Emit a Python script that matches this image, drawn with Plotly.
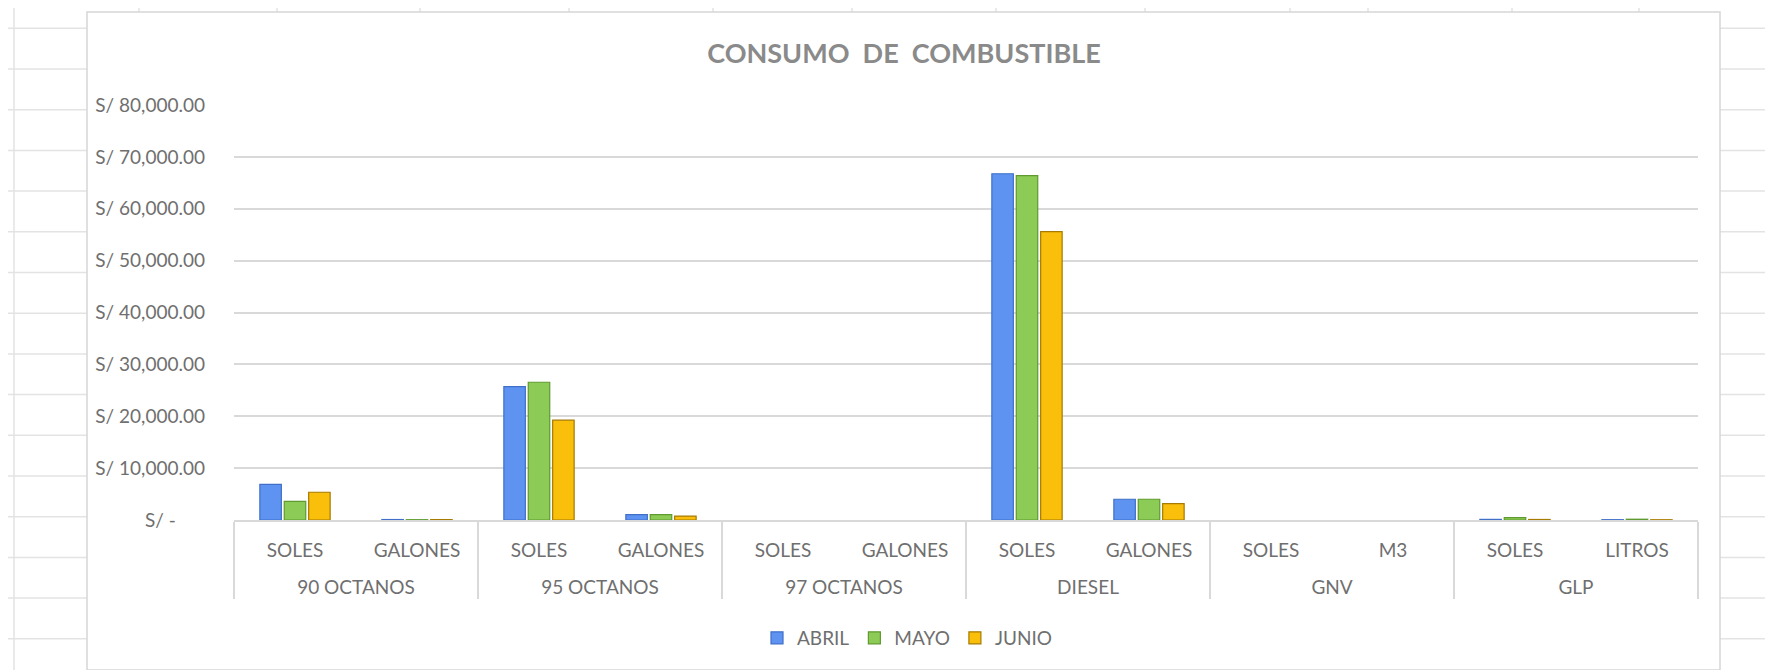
import plotly.graph_objects as go

# data
combustibles = ["90 OCTANOS", "90 OCTANOS", "95 OCTANOS", "95 OCTANOS", "97 OCTANOS", "97 OCTANOS",
                "DIESEL", "DIESEL", "GNV", "GNV", "GLP", "GLP"]
unidades = ["SOLES", "GALONES", "SOLES", "GALONES", "SOLES", "GALONES",
            "SOLES", "GALONES", "SOLES", "M3", "SOLES", "LITROS"]
abril = [6850, 90, 25700, 1050, 0, 0, 66750, 4000, 0, 0, 120, 60]
mayo = [3600, 60, 26550, 1050, 0, 0, 66400, 4000, 0, 0, 450, 150]
junio = [5350, 80, 19250, 750, 0, 0, 55600, 3150, 0, 0, 100, 50]
meses = ["ABRIL", "MAYO", "JUNIO"]
y_ticks = [0, 10000, 20000, 30000, 40000, 50000, 60000, 70000, 80000]
y_tick_text = ["S/ -\u00a0\u00a0\u00a0\u00a0\u00a0\u00a0", "S/ 10,000.00", "S/ 20,000.00", "S/ 30,000.00",
               "S/ 40,000.00", "S/ 50,000.00", "S/ 60,000.00", "S/ 70,000.00", "S/ 80,000.00"]

W, H = 1773, 670
ML, MR, MT, MB = 226, 83, 97, 158
PW, PH = W - ML - MR, H - MT - MB


def px(x):
   return (x - ML) / PW


def py(y):
   return (H - MB - y) / PH


FONT = "Lato, 'Open Sans', sans-serif"
GRAY = "#6f6f6f"

colors = {"ABRIL": ("#5f93f2", "#3f6fc8"),
          "MAYO": ("#8ccb55", "#5f9a30"),
          "JUNIO": ("#f9bf0a", "#a77a00")}

# second level labels get an empty first line so they sit lower, like excel
grupos = ["<br>" + c for c in combustibles]

fig = go.Figure()
for mes, vals in zip(meses, [abril, mayo, junio]):
   fill, edge = colors[mes]
   fig.add_trace(go.Bar(
      x=[grupos, unidades],
      y=vals,
      name=mes,
      marker=dict(color=fill,
                  line=dict(color=edge, width=[1.2 if v > 0 else 0 for v in vals])),
   ))

# spreadsheet grid behind the chart box
shapes = []
for xc in [6, 131, 269, 412, 561, 705, 844, 988, 1137, 1282, 1360, 1504, 1631]:
   shapes.append(dict(type="line", xref="paper", yref="paper", layer="below",
                      x0=px(xc), x1=px(xc), y0=py(0), y1=py(H),
                      line=dict(color="#e3e3e3", width=1.5)))
for k in range(16):
   yr = 20.3 + 40.7 * k
   shapes.append(dict(type="line", xref="paper", yref="paper", layer="below",
                      x0=px(0), x1=px(W), y0=py(yr), y1=py(yr),
                      line=dict(color="#e3e3e3", width=1.5)))
# chart box
shapes.append(dict(type="rect", xref="paper", yref="paper", layer="below",
                   x0=px(79), x1=px(1712), y0=py(662), y1=py(4),
                   fillcolor="white", line=dict(color="#d6d6d6", width=1.5)))

fig.update_layout(
   width=W, height=H,
   margin=dict(l=ML, r=MR, t=MT, b=MB),
   paper_bgcolor="white",
   plot_bgcolor="rgba(0,0,0,0)",
   font=dict(family=FONT, size=19, color=GRAY),
   title=dict(text="<b>CONSUMO  DE  COMBUSTIBLE</b>", x=896 / W, xanchor="center",
              y=1 - 46 / H, yanchor="middle",
              font=dict(family=FONT, size=27, color="#8a8a8a")),
   barmode="group",
   bargap=0.4,
   bargroupgap=0.12,
   showlegend=True,
   legend=dict(orientation="h", x=px(899), xanchor="center", y=py(630), yanchor="middle",
               font=dict(size=19, color=GRAY), itemwidth=30, traceorder="normal"),
   shapes=shapes,
)
fig.update_yaxes(range=[0, 80000], tickvals=y_ticks, ticktext=y_tick_text,
                 showgrid=True, gridcolor="#d9d9d9", gridwidth=1.5,
                 zeroline=False, showline=False, ticks="", ticklabelstandoff=28,
                 fixedrange=True)
fig.update_xaxes(type="multicategory", showline=True, linecolor="#d9d9d9", linewidth=1.5,
                 showgrid=False, ticks="", showdividers=True, dividercolor="#d9d9d9",
                 dividerwidth=1.5, ticklabelstandoff=12, fixedrange=True)

fig.write_html("out.html")
